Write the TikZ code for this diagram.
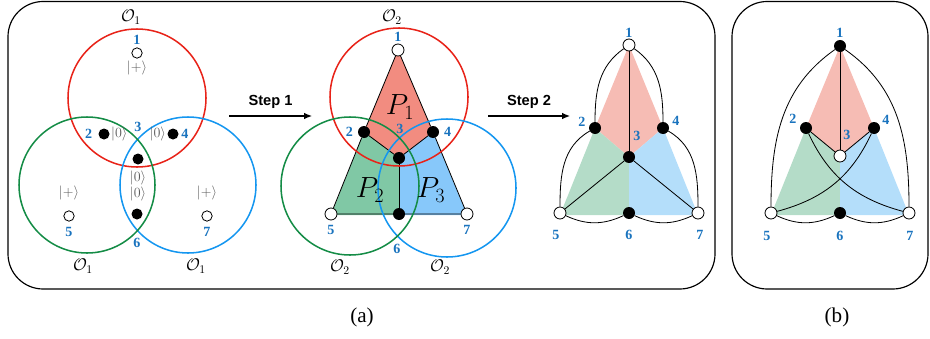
\documentclass[tikz,border=0pt]{standalone}
\usepackage{fontspec}
\setmainfont{Liberation Serif}
\setsansfont{Liberation Sans}
\usepackage{tikz}
\usetikzlibrary{arrows.meta,positioning}
\usepackage{xcolor}
\usepackage{amsmath}

\definecolor{circred}{RGB}{232,35,25}
\definecolor{circgreen}{RGB}{20,140,70}
\definecolor{circblue}{RGB}{20,150,240}
\definecolor{numblue}{RGB}{25,115,190}
\definecolor{pone}{RGB}{242,140,128}
\definecolor{ptwo}{RGB}{128,200,165}
\definecolor{pthree}{RGB}{135,200,250}
\definecolor{lone}{RGB}{246,188,180}
\definecolor{ltwo}{RGB}{180,220,200}
\definecolor{lthree}{RGB}{180,222,250}

\begin{document}
\begin{tikzpicture}[x=0.03cm, y=0.03cm,
    opn/.style={circle, draw, fill=white, line width=0.7pt, inner sep=0pt, minimum size=#1},
    opn/.default=0.36cm,
    dot/.style={circle, fill=black, inner sep=0pt, minimum size=#1},
    dot/.default=0.36cm,
    num/.style={font=\fontsize{12}{12}\selectfont\bfseries, text=numblue, inner sep=0pt},
    ket/.style={font=\fontsize{11.5}{11.5}\selectfont, text=black!65, inner sep=0pt},
    obs/.style={font=\fontsize{14}{14}\selectfont, inner sep=0pt},
    plab/.style={font=\fontsize{24}{24}\selectfont, inner sep=0pt},
    orb/.style={line width=1.3pt, draw=#1},
    link/.style={line width=0.7pt},
    arr/.style={-{Latex[length=2.4mm,width=2mm]}, line width=1pt},
    steplab/.style={font=\fontsize{12.5}{12.5}\selectfont\sffamily\bfseries, inner sep=0pt},
    caplab/.style={font=\fontsize{18}{18}\selectfont, inner sep=0pt},
    panel/.style={rounded corners=30pt, line width=1pt}
]
\useasboundingbox (0,0) rectangle (930,-339);

% frames
\draw[panel] (8,-1.5) rectangle (715,-289);
\draw[panel] (732,-1.5) rectangle (928,-289);
\node[caplab] (capa) at (362,-317) {(a)};
\node[caplab] (capb) at (837,-317) {(b)};

% --- initial state: three circles
\draw[orb=circred] (137,-98) circle (69);
\draw[orb=circblue] (188,-185) circle (68);
\draw[orb=circgreen] (87,-185) circle (68);
\node[opn=0.31cm] (a1) at (137,-53) {};
\node[dot=0.33cm] (a2) at (104,-134) {};
\node[dot=0.33cm] (a3) at (138,-159) {};
\node[dot=0.33cm] (a4) at (173,-134) {};
\node[opn=0.31cm] (a5) at (69,-216) {};
\node[dot=0.33cm] (a6) at (137,-214) {};
\node[opn=0.31cm] (a7) at (207,-216) {};
\node[num, above=2pt of a1] (la1) {1};
\node[num, left=5pt of a2] (la2) {2};
\node[num] (la3) at (138,-127) {3};
\node[num, right=2pt of a4] (la4) {4};
\node[num, below=5pt of a5] (la5) {5};
\node[num] (la6) at (137,-243) {6};
\node[num, below=5pt of a7] (la7) {7};
\node[ket, below=2pt of a1] (ka1) {$|+\rangle$};
\node[ket, right=1pt of a2] (ka2) {$|0\rangle$};
\node[ket, left=1pt of a4] (ka4) {$|0\rangle$};
\node[ket, below=5pt of a3] (ka3) {$|0\rangle$};
\node[ket, below=1pt of ka3] (ka6) {$|0\rangle$};
\node[ket, above=9pt of a5] (ka5) {$|+\rangle$};
\node[ket, above=9pt of a7] (ka7) {$|+\rangle$};
\node[obs] (oa1) at (131,-17) {$\mathcal{O}_1$};
\node[obs] (oa2) at (83,-266) {$\mathcal{O}_1$};
\node[obs] (oa3) at (196,-266) {$\mathcal{O}_1$};

% step 1
\coordinate (s1a) at (229,-116);
\coordinate (s1b) at (312,-116);
\draw[arr] (s1a) -- node[steplab, above=6pt] (t1) {Step 1} (s1b);

% --- step 1: patches P1, P2, P3
\fill[pone] (398,-50) -- (433,-132) -- (399,-158) -- (364,-132) -- cycle;
\fill[ptwo] (364,-132) -- (399,-158) -- (399,-215) -- (331,-215) -- cycle;
\fill[pthree] (433,-132) -- (467,-215) -- (399,-215) -- (399,-158) -- cycle;
\node[opn] (b1) at (398,-50) {};
\node[dot] (b2) at (364,-132) {};
\node[dot] (b3) at (399,-158) {};
\node[dot] (b4) at (433,-132) {};
\node[opn] (b5) at (331,-214) {};
\node[dot] (b6) at (399,-214) {};
\node[opn] (b7) at (467,-214) {};
\draw[link] (b1) -- (b2) -- (b5) -- (b6) -- (b7) -- (b4) -- (b1);
\draw[link] (b2) -- (b3) -- (b4);
\draw[link] (b3) -- (b6);
\draw[orb=circred] (399,-97) circle (69);
\draw[orb=circblue] (447,-188) circle (69);
\draw[orb=circgreen] (350,-186) circle (69);
\node[num, above=1.5pt of b1] (lb1) {1};
\node[num, left=4pt of b2] (lb2) {2};
\node[num] (lb3) at (400,-129) {3};
\node[num, right=4pt of b4] (lb4) {4};
\node[num, below=4pt of b5] (lb5) {5};
\node[num] (lb6) at (397,-249) {6};
\node[num, below=4pt of b7] (lb7) {7};
\node[plab] (p1) at (400,-107) {$P_1$};
\node[plab] (p2) at (370,-190) {$P_2$};
\node[plab] (p3) at (431,-190) {$P_3$};
\node[obs] (ob1) at (392,-17) {$\mathcal{O}_2$};
\node[obs] (ob2) at (340,-267) {$\mathcal{O}_2$};
\node[obs] (ob3) at (440,-267) {$\mathcal{O}_2$};

% step 2
\coordinate (s2a) at (488,-116);
\coordinate (s2b) at (570,-116);
\draw[arr] (s2a) -- node[steplab, above=6pt] (t2) {Step 2} (s2b);

% --- step 2: graph
\fill[lone] (629,-45) -- (663,-128) -- (629,-157) -- (595,-128) -- cycle;
\fill[ltwo] (595,-128) -- (629,-157) -- (629,-215) -- (560,-215) -- cycle;
\fill[lthree] (663,-128) -- (698,-215) -- (629,-215) -- (629,-157) -- cycle;
\node[opn] (c1) at (629,-45) {};
\node[dot] (c2) at (595,-128) {};
\node[dot] (c3) at (629,-157) {};
\node[dot] (c4) at (663,-128) {};
\node[opn] (c5) at (560,-213) {};
\node[dot] (c6) at (629,-213) {};
\node[opn] (c7) at (698,-213) {};
\draw[link] (c1) -- (c3);
\draw[link] (c3) -- (c5);
\draw[link] (c3) -- (c7);
\draw[link] (c1) to[out=215,in=90] (c2);
\draw[link] (c1) to[out=-35,in=90] (c4);
\draw[link] (c2) to[out=210,in=90] (c5);
\draw[link] (c4) to[out=-30,in=90] (c7);
\draw[link] (c5) to[out=-25,in=205] (c6);
\draw[link] (c6) to[out=-25,in=205] (c7);
\node[num] (lc1) at (629,-33) {1};
\node[num] (lc2) at (582,-122) {2};
\node[num] (lc3) at (637,-136) {3};
\node[num] (lc4) at (676,-121) {4};
\node[num] (lc5) at (556,-235) {5};
\node[num] (lc6) at (629,-235) {6};
\node[num] (lc7) at (700,-235) {7};

% --- (b)
\fill[lone] (840,-46) -- (874,-128) -- (840,-156) -- (806,-128) -- cycle;
\fill[ltwo] (806,-128) -- (840,-156) -- (840,-215) -- (771,-215) -- cycle;
\fill[lthree] (874,-128) -- (909,-215) -- (840,-215) -- (840,-156) -- cycle;
\node[dot] (d1) at (840,-46) {};
\node[dot] (d2) at (806,-128) {};
\node[opn] (d3) at (840,-156) {};
\node[dot] (d4) at (874,-128) {};
\node[opn] (d5) at (771,-213) {};
\node[dot] (d6) at (840,-213) {};
\node[opn] (d7) at (909,-213) {};
\draw[link] (d1) -- (d3);
\draw[link] (d2) -- (d3);
\draw[link] (d4) -- (d3);
\draw[link] (d1) to[out=215,in=90] (d5);
\draw[link] (d1) to[out=-35,in=90] (d7);
\draw[link] (d2) to[out=-65,in=165] (d7);
\draw[link] (d4) to[out=245,in=15] (d5);
\draw[link] (d5) to[out=-25,in=205] (d6);
\draw[link] (d6) to[out=-25,in=205] (d7);
\node[num] (ld1) at (840,-33) {1};
\node[num] (ld2) at (793,-119) {2};
\node[num] (ld3) at (847,-135) {3};
\node[num] (ld4) at (886,-120) {4};
\node[num] (ld5) at (767,-236) {5};
\node[num] (ld6) at (840,-236) {6};
\node[num] (ld7) at (910,-236) {7};
\end{tikzpicture}
\end{document}
